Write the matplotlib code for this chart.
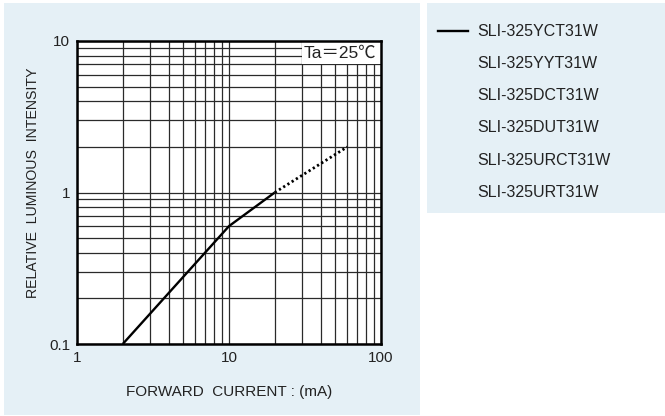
import matplotlib
matplotlib.use("Agg")
import matplotlib.pyplot as plt
from matplotlib.patches import Rectangle
from matplotlib.lines import Line2D

plt.rcParams['font.family'] = ['Liberation Sans', 'Noto Sans CJK JP', 'DejaVu Sans']

# data
current = [2, 10, 20]
intensity = [0.1, 0.6, 1.0]
current_ext = [20, 60]
intensity_ext = [1.0, 2.0]

x_ticks = [1, 10, 100]
x_tick_labels = ['1', '10', '100']
y_ticks = [0.1, 1, 10]
y_tick_labels = ['0.1', '1', '10']

legend_labels = ['SLI-325YCT31W', 'SLI-325YYT31W', 'SLI-325DCT31W',
                 'SLI-325DUT31W', 'SLI-325URCT31W', 'SLI-325URT31W']

W, H = 665, 416
bg = '#E5F0F6'
txt = '#222222'

fig = plt.figure(figsize=(W / 100, H / 100), dpi=100)
fig.patch.set_facecolor('white')

# background panels
fig.patches.append(Rectangle((4 / W, 1 / H), 416 / W, 412 / H,
                             transform=fig.transFigure, facecolor=bg,
                             edgecolor='none', zorder=-10))
fig.patches.append(Rectangle((427 / W, (H - 213) / H), 238 / W, 210 / H,
                             transform=fig.transFigure, facecolor=bg,
                             edgecolor='none', zorder=-10))

ax = fig.add_axes([77 / W, (H - 344) / H, 304 / W, 303 / H])
ax.set_facecolor('white')
ax.set_xscale('log')
ax.set_yscale('log')
ax.set_xlim(1, 100)
ax.set_ylim(0.1, 10)

ax.xaxis.set_minor_locator(matplotlib.ticker.LogLocator(subs=range(2, 10)))
ax.yaxis.set_minor_locator(matplotlib.ticker.LogLocator(subs=range(2, 10)))
ax.xaxis.set_minor_formatter(matplotlib.ticker.NullFormatter())
ax.yaxis.set_minor_formatter(matplotlib.ticker.NullFormatter())
ax.grid(True, which='both', color='#2a2a2a', linewidth=0.9)
ax.set_axisbelow(True)

ax.plot(current, intensity, color='black', linewidth=1.7, solid_capstyle='butt', zorder=3)
ax.plot(current_ext, intensity_ext, color='black', linewidth=2,
        linestyle=(0, (0.8, 1.0)), zorder=3)

ax.set_xticks(x_ticks)
ax.set_xticklabels(x_tick_labels)
ax.set_yticks(y_ticks)
ax.set_yticklabels(y_tick_labels)
ax.tick_params(which='both', length=0, labelsize=11, colors=txt, pad=5)

for s in ax.spines.values():
    s.set_linewidth(1.8)
    s.set_color('black')

# Ta box in the upper right corner
ax.add_patch(Rectangle((30, 7), 70, 3, facecolor='white', edgecolor='none', zorder=2))
ax.text(54, 8.35, 'Ta＝25℃', ha='center', va='center', fontsize=12.5, color=txt, zorder=4)

fig.text(33 / W, 1 - 183 / H, 'RELATIVE  LUMINOUS  INTENSITY', rotation=90,
         ha='center', va='center', fontsize=10.2, color=txt)
fig.text(229 / W, 1 - 392 / H, 'FORWARD  CURRENT : (mA)',
         ha='center', va='center', fontsize=11, color=txt)

# legend, drawn by hand
fig.add_artist(Line2D([438 / W, 468 / W], [1 - 31 / H, 1 - 31 / H],
                      transform=fig.transFigure, color='black', linewidth=1.7))
for i, lab in enumerate(legend_labels):
    fig.text(477 / W, 1 - (31 + 32.3 * i) / H, lab, ha='left', va='center',
             fontsize=11.5, color=txt)

fig.savefig('out.png', dpi=100, facecolor=fig.get_facecolor())
